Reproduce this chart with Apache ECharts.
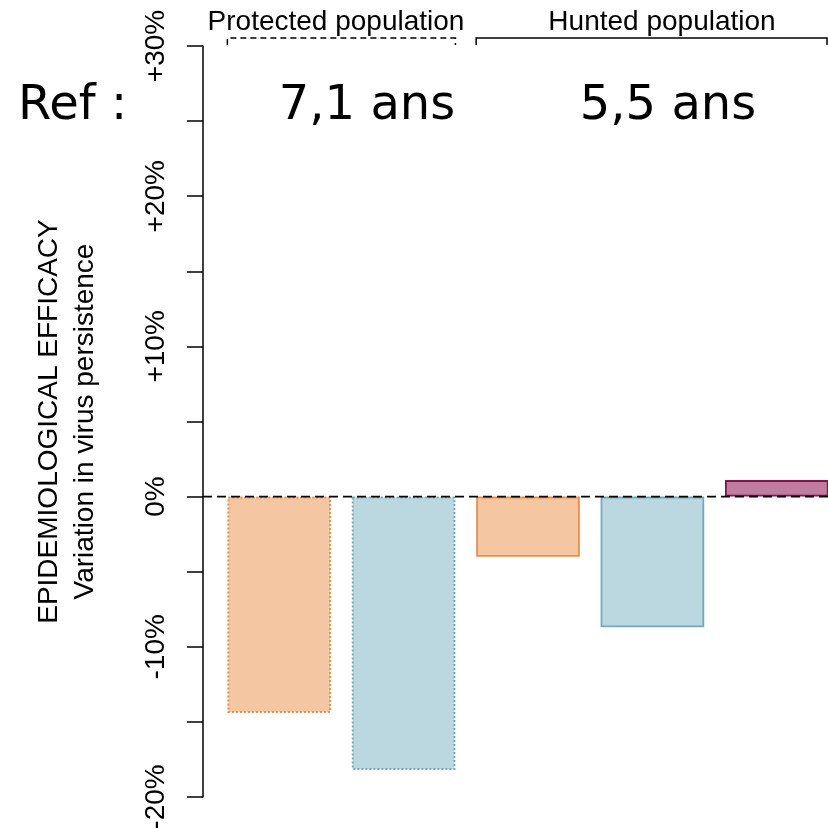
<!DOCTYPE html>
<html>
<head>
<meta charset="utf-8">
<script src="https://cdn.jsdelivr.net/npm/echarts@6/dist/echarts.min.js"></script>
<style>html,body{margin:0;padding:0;background:#fff}#c{width:828px;height:828px}</style>
</head>
<body>
<div id="c"></div>
<script>
const categories = ['Protected – A', 'Protected – B', 'Hunted – A', 'Hunted – B', 'Hunted – C'];
const values = [-14.4, -18.2, -4.0, -8.7, 1.1];
const groupLabels = ['Protected population', 'Hunted population'];
const groupRanges = [[0, 1], [2, 4]];
const durations = ['7,1 ans', '5,5 ans'];
const refLabel = 'Ref :';
const yTicks = [-20, -10, 0, 10, 20, 30];

const fills = ['#F4C6A1', '#BBD7DF', '#F4C6A1', '#BBD7DF', '#BF7E9F'];
const borders = ['#EE8E45', '#72AABA', '#EE8E45', '#72AABA', '#8C0E4E'];
const borderTypes = ['dotted', 'dotted', 'solid', 'solid', 'solid'];

const chart = echarts.init(document.getElementById('c'));
const FONT = 'Liberation Sans, Arial, sans-serif';
const GRID = {left: 217, top: 46, width: 622, bottom: 31, containLabel: false, outerBoundsMode: 'none'};

chart.setOption({
  animation: false,
  grid: GRID,
  xAxis: {
    type: 'category', data: categories,
    axisLine: {show: false}, axisTick: {show: false}, axisLabel: {show: false}
  },
  yAxis: {
    type: 'value', min: -20, max: 30, interval: 5, offset: 14,
    axisLine: {show: true, lineStyle: {color: '#000', width: 1.5}},
    axisTick: {show: true, length: 16, lineStyle: {color: '#000', width: 1.5}},
    splitLine: {show: false},
    axisLabel: {
      rotate: 90, margin: 33, color: '#000', fontSize: 28, fontFamily: FONT,
      formatter: v => yTicks.indexOf(v) < 0 ? '' : (v > 0 ? '+' + v + '%' : v + '%')
    },
    name: 'EPIDEMIOLOGICAL EFFICACY\nVariation in virus persistence',
    nameLocation: 'middle', nameRotate: 90, nameGap: 100,
    nameTextStyle: {color: '#000', fontSize: 28, fontFamily: FONT, lineHeight: 36}
  },
  series: [{
    type: 'bar', barCategoryGap: '16.7%',
    data: values.map((v, i) => ({
      value: v,
      itemStyle: {color: fills[i], borderColor: borders[i], borderWidth: borderTypes[i] === 'dotted' ? 2 : 1.8, borderType: borderTypes[i]}
    }))
  }]
});

// annotations computed from scales
const cx = i => chart.convertToPixel({xAxisIndex: 0}, i);
const step = cx(1) - cx(0);
const half = step / 1.2 / 2;
const y0 = chart.convertToPixel({yAxisIndex: 0}, 0);
const axisX = GRID.left - 14;
const graphics = [];
graphics.push({type: 'line', z: 50, shape: {x1: axisX, y1: y0, x2: 828, y2: y0},
  style: {stroke: '#000', lineWidth: 1.7, lineDash: [9, 5]}});
const bracketStyles = [[6, 4], null];
const textCenters = [336, 662];
groupRanges.forEach((r, g) => {
  const x1 = cx(r[0]) - half, x2 = Math.min(cx(r[1]) + half, 827);
  graphics.push({type: 'polyline', shape: {points: [[x1, 45], [x1, 38], [x2, 38], [x2, 45]]},
    style: {stroke: '#000', lineWidth: 1.5, fill: null, lineDash: bracketStyles[g]}});
  graphics.push({type: 'text', x: textCenters[g], y: 22,
    style: {text: groupLabels[g], fill: '#000', font: '28px ' + FONT, textAlign: 'center', textVerticalAlign: 'middle'}});
});
const durCenters = [367, 668];
durations.forEach((d, g) => {
  graphics.push({type: 'text', x: durCenters[g], y: 107,
    style: {text: d, fill: '#000', font: '48px "Comic Sans MS", "DejaVu Sans", sans-serif', textAlign: 'center', textVerticalAlign: 'middle'}});
});
graphics.push({type: 'text', x: 18, y: 107,
  style: {text: refLabel, fill: '#000', font: '48px "Comic Sans MS", "DejaVu Sans", sans-serif', textAlign: 'left', textVerticalAlign: 'middle'}});
chart.setOption({graphic: graphics});
</script>
</body>
</html>
